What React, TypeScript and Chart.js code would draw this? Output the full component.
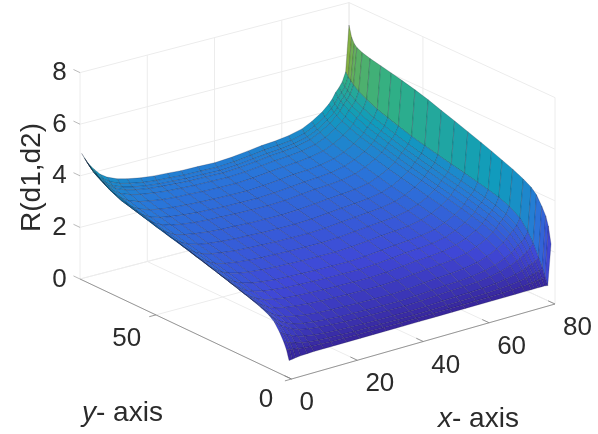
import React, { useEffect, useRef } from "react";
import { Chart, registerables } from "chart.js";

Chart.register(...registerables);

const xNodes = [0.5, 1.5, 2.5, 4, 6, 8, 11, 14, 18, 22, 26, 30, 35, 40, 45, 50, 54, 58, 62, 66, 69, 72, 74, 75, 76, 77, 78, 79, 80];
const yNodes = [1.5, 2.5, 3.5, 5, 7, 9, 12, 16, 20, 24, 28, 33, 38, 43, 48, 53, 58, 62, 66, 70, 73, 75, 76, 77, 78];
// R(d1,d2): one row per y node, one column per x node
const rValues = [
  [.62,.64,.66,.68,.69,.70,.70,.70,.70,.70,.70,.70,.70,.70,.70,.70,.70,.70,.70,.70,.70,.70,.70,.70,.70,.70,.70,.68,2.25],
  [1.00,.97,.94,.91,.87,.85,.83,.81,.80,.79,.79,.78,.78,.78,.78,.79,.79,.80,.80,.81,.83,.85,.87,.88,.90,.91,.92,.95,2.90],
  [1.25,1.19,1.14,1.08,1.02,.97,.93,.91,.89,.87,.87,.86,.85,.85,.86,.87,.88,.89,.90,.93,.96,1.01,1.05,1.08,1.12,1.15,1.19,1.25,3.25],
  [1.55,1.46,1.38,1.29,1.19,1.12,1.06,1.02,.99,.97,.95,.94,.94,.93,.94,.97,.99,1.00,1.02,1.06,1.12,1.20,1.27,1.32,1.39,1.43,1.49,1.60,3.55],
  [1.85,1.74,1.63,1.51,1.37,1.28,1.20,1.15,1.11,1.08,1.06,1.05,1.04,1.03,1.05,1.09,1.12,1.14,1.17,1.23,1.32,1.44,1.55,1.62,1.72,1.80,1.89,2.05,3.90],
  [2.02,1.89,1.78,1.64,1.50,1.40,1.31,1.26,1.21,1.17,1.16,1.14,1.13,1.12,1.15,1.19,1.23,1.25,1.29,1.37,1.48,1.63,1.77,1.86,1.99,2.08,2.20,2.40,4.10],
  [2.17,2.04,1.92,1.78,1.63,1.53,1.44,1.38,1.33,1.30,1.28,1.26,1.25,1.24,1.27,1.33,1.37,1.40,1.45,1.54,1.67,1.86,2.03,2.14,2.29,2.40,2.54,2.79,4.28],
  [2.32,2.19,2.07,1.93,1.77,1.67,1.58,1.52,1.47,1.44,1.42,1.40,1.39,1.38,1.41,1.47,1.52,1.56,1.61,1.71,1.85,2.05,2.24,2.35,2.52,2.64,2.79,3.06,4.47],
  [2.45,2.32,2.19,2.05,1.90,1.79,1.70,1.64,1.59,1.56,1.54,1.52,1.51,1.50,1.53,1.59,1.65,1.68,1.73,1.84,1.98,2.19,2.38,2.50,2.67,2.79,2.94,3.22,4.63],
  [2.59,2.45,2.33,2.18,2.03,1.92,1.82,1.77,1.71,1.68,1.66,1.64,1.63,1.62,1.65,1.71,1.77,1.80,1.85,1.95,2.10,2.30,2.49,2.61,2.78,2.90,3.06,3.33,4.79],
  [2.72,2.58,2.45,2.30,2.15,2.04,1.94,1.88,1.82,1.79,1.77,1.75,1.74,1.73,1.76,1.82,1.87,1.91,1.96,2.06,2.21,2.41,2.60,2.72,2.89,3.01,3.16,3.43,4.94],
  [2.88,2.74,2.60,2.45,2.29,2.18,2.07,2.01,1.96,1.92,1.90,1.88,1.87,1.86,1.89,1.95,2.00,2.04,2.09,2.19,2.33,2.54,2.72,2.84,3.01,3.13,3.28,3.55,5.12],
  [3.04,2.89,2.75,2.59,2.43,2.31,2.20,2.14,2.08,2.04,2.02,2.00,1.99,1.98,2.01,2.07,2.12,2.16,2.21,2.31,2.45,2.65,2.84,2.95,3.12,3.24,3.39,3.66,5.30],
  [3.20,3.05,2.90,2.74,2.56,2.44,2.33,2.27,2.20,2.17,2.14,2.12,2.11,2.10,2.13,2.19,2.24,2.28,2.33,2.43,2.57,2.77,2.96,3.07,3.24,3.36,3.51,3.78,5.47],
  [3.35,3.19,3.04,2.87,2.69,2.56,2.45,2.38,2.32,2.28,2.26,2.23,2.22,2.21,2.24,2.30,2.35,2.39,2.44,2.54,2.68,2.89,3.07,3.19,3.36,3.48,3.63,3.90,5.65],
  [3.50,3.34,3.18,3.01,2.82,2.69,2.58,2.51,2.44,2.40,2.38,2.35,2.34,2.33,2.36,2.42,2.47,2.51,2.56,2.66,2.81,3.01,3.20,3.32,3.49,3.61,3.76,4.03,5.80],
  [3.65,3.48,3.33,3.15,2.95,2.82,2.70,2.63,2.56,2.52,2.50,2.47,2.46,2.45,2.48,2.55,2.60,2.63,2.68,2.79,2.94,3.15,3.34,3.46,3.63,3.76,3.91,4.19,5.93],
  [3.78,3.61,3.45,3.26,3.06,2.92,2.80,2.73,2.66,2.61,2.59,2.56,2.55,2.54,2.58,2.64,2.69,2.73,2.78,2.89,3.04,3.25,3.45,3.57,3.75,3.88,4.04,4.32,6.03],
  [3.91,3.73,3.56,3.37,3.17,3.03,2.90,2.82,2.75,2.71,2.68,2.66,2.64,2.63,2.67,2.73,2.79,2.82,2.88,2.99,3.14,3.36,3.56,3.69,3.87,4.00,4.17,4.46,6.12],
  [4.13,3.93,3.75,3.54,3.32,3.16,3.02,2.94,2.86,2.81,2.79,2.76,2.74,2.73,2.77,2.84,2.89,2.93,2.99,3.10,3.27,3.50,3.71,3.84,4.04,4.17,4.34,4.65,6.21],
  [4.35,4.14,3.94,3.71,3.46,3.29,3.14,3.05,2.97,2.91,2.88,2.85,2.84,2.82,2.86,2.93,2.99,3.03,3.09,3.21,3.38,3.62,3.84,3.98,4.18,4.32,4.50,4.82,6.30],
  [4.50,4.27,4.07,3.82,3.57,3.39,3.23,3.13,3.04,2.99,2.95,2.92,2.91,2.89,2.93,3.00,3.07,3.11,3.17,3.30,3.48,3.73,3.96,4.10,4.31,4.46,4.65,4.98,6.40],
  [4.60,4.37,4.15,3.90,3.64,3.45,3.29,3.19,3.10,3.04,3.01,2.97,2.96,2.94,2.98,3.06,3.12,3.16,3.23,3.36,3.54,3.80,4.03,4.18,4.40,4.55,4.74,5.08,6.50],
  [4.72,4.48,4.26,4.01,3.73,3.55,3.38,3.28,3.18,3.12,3.09,3.05,3.04,3.02,3.06,3.14,3.21,3.25,3.31,3.45,3.63,3.89,4.13,4.28,4.50,4.66,4.85,5.20,6.70],
  [4.85,4.61,4.39,4.14,3.86,3.68,3.51,3.41,3.31,3.25,3.22,3.18,3.17,3.15,3.19,3.27,3.34,3.38,3.45,3.58,3.77,4.03,4.27,4.43,4.65,4.80,5.00,5.35,7.13],
];
const xTicks = [0, 20, 40, 60, 80];
const yTicks = [0, 50];
const zTicks = [0, 2, 4, 6, 8];
const X_MAX = 80;
const Y_MAX = 78;
const zTitle = "R(d1,d2)";

const parula = [
  [62, 38, 168], [72, 82, 244], [46, 135, 247], [18, 177, 214],
  [55, 200, 151], [171, 199, 58], [254, 195, 56], [249, 251, 21],
];
const C_MIN = 0.6;
const C_MAX = 8.6;
const SHADE = 0.88; // the reference's very fine mesh darkens its cells
function colorFor(z: number) {
  const t = Math.max(0, Math.min(0.9999, (z - C_MIN) / (C_MAX - C_MIN))) * (parula.length - 1);
  const i = Math.floor(t);
  const f = t - i;
  const c = parula[i].map((v, k) => Math.round((v + (parula[i + 1][k] - v) * f) * SHADE));
  return `rgb(${c[0]},${c[1]},${c[2]})`;
}

// view projection of the 3-D box on the page
function project(x: number, y: number, z: number) {
  const u = x / X_MAX;
  const v = y / Y_MAX;
  return {
    x: 291.5 + 263.5 * u - 211.5 * v + 5.5 * u * v,
    y: 379 - 75 * u - 100 * v + 5 * u * v - 25.8 * z,
  };
}

type P3 = [number, number, number];
function lineSet(points: P3[], color: string, width: number) {
  return {
    data: points.map((p) => project(p[0], p[1], p[2])),
    showLine: true,
    fill: false,
    borderColor: color,
    borderWidth: width,
    pointRadius: 0,
    tension: 0,
  };
}

function buildDatasets() {
  const sets: any[] = [];
  // Chart.js paints the last dataset first, so the nearest cells go first here.
  for (let j = 0; j < yNodes.length - 1; j++) {
    for (let i = 0; i < xNodes.length - 1; i++) {
      const a = rValues[j][i], b = rValues[j][i + 1], c = rValues[j + 1][i + 1], d = rValues[j + 1][i];
      sets.push({
        data: [
          project(xNodes[i], yNodes[j], a),
          project(xNodes[i + 1], yNodes[j], b),
          project(xNodes[i + 1], yNodes[j + 1], c),
          project(xNodes[i], yNodes[j + 1], d),
          project(xNodes[i], yNodes[j], a),
        ],
        showLine: true,
        fill: "shape",
        backgroundColor: colorFor((a + b + c + d) / 4),
        borderColor: "rgba(10,10,40,0.42)",
        borderWidth: 0.5,
        pointRadius: 0,
        tension: 0,
      });
    }
  }
  const dark = "#808080";
  const grid = "#ececec";
  const zTop = zTicks[zTicks.length - 1];
  sets.push(lineSet([[0, 0, 0], [0, Y_MAX, 0]], dark, 0.8));
  sets.push(lineSet([[0, 0, 0], [X_MAX, 0, 0]], dark, 0.8));
  xTicks.forEach((t) => sets.push(lineSet([[t, 0, 0], [t, 2.6, 0]], dark, 0.8)));
  yTicks.forEach((t) => sets.push(lineSet([[0, t, 0], [-2, t, 0]], dark, 0.8)));
  zTicks.forEach((t) => sets.push(lineSet([[0, Y_MAX, t], [0, Y_MAX + 2.4, t]], "#a8a8a8", 0.8)));
  xTicks.forEach((t) => {
    sets.push(lineSet([[t, 0, 0], [t, Y_MAX, 0], [t, Y_MAX, zTop]], grid, 1));
  });
  [...yTicks, Y_MAX].forEach((t) => {
    sets.push(lineSet([[0, t, 0], [X_MAX, t, 0], [X_MAX, t, zTop]], grid, 1));
  });
  zTicks.forEach((t) => {
    sets.push(lineSet([[0, Y_MAX, t], [X_MAX, Y_MAX, t], [X_MAX, 0, t]], grid, 1));
  });
  return sets;
}

const textPlugin = {
  id: "axisText",
  afterDraw(chart: any) {
    const ctx = chart.ctx as CanvasRenderingContext2D;
    const sx = chart.scales.x;
    const sy = chart.scales.y;
    const at = (p: { x: number; y: number }) => ({ x: sx.getPixelForValue(p.x), y: sy.getPixelForValue(p.y) });
    ctx.save();
    ctx.fillStyle = "#2b2b2b";
    ctx.textAlign = "center";
    ctx.textBaseline = "alphabetic";
    ctx.font = '26px "Liberation Sans"';
    const put = (s: string, x: number, y: number) => ctx.fillText(s, x, y + 9);
    zTicks.forEach((t) => {
      const p = at(project(0, Y_MAX, t));
      put(String(t), p.x - 20.5, p.y - 1.5);
    });
    xTicks.forEach((t) => {
      const p = at(project(t, 0, 0));
      const w = ctx.measureText(String(t)).width;
      put(String(t), p.x + 8 + w / 2, p.y + 22);
    });
    yTicks.forEach((t) => {
      const p = at(project(0, t, 0));
      const w = ctx.measureText(String(t)).width;
      put(String(t), p.x - 22 - w / 4, p.y + 16 + w * 0.21);
    });
    ctx.textAlign = "left";
    ctx.font = 'italic 28px "Liberation Sans"';
    ctx.fillText("y", 82, 421);
    let w = ctx.measureText("y").width;
    ctx.font = '28px "Liberation Sans"';
    ctx.fillText("- axis", 82 + w, 421);
    ctx.font = 'italic 28px "Liberation Sans"';
    ctx.fillText("x", 438, 427);
    w = ctx.measureText("x").width;
    ctx.font = '28px "Liberation Sans"';
    ctx.fillText("- axis", 438 + w, 427);
    ctx.translate(32, 177.5);
    ctx.rotate(-Math.PI / 2);
    ctx.textAlign = "center";
    ctx.textBaseline = "middle";
    ctx.fillText(zTitle, 0, 0);
    ctx.restore();
  },
};

export default function App() {
  const ref = useRef<HTMLCanvasElement>(null);
  useEffect(() => {
    if (!ref.current) return;
    const chart = new Chart(ref.current, {
      type: "scatter",
      data: { datasets: buildDatasets() },
      options: {
        animation: false,
        responsive: false,
        events: [],
        layout: { padding: 0 },
        scales: {
          x: { type: "linear", min: 0, max: 598, display: false },
          y: { type: "linear", min: 0, max: 434, reverse: true, display: false },
        },
        plugins: { legend: { display: false }, tooltip: { enabled: false }, filler: { propagate: false } },
      },
      plugins: [textPlugin],
    } as any);
    return () => chart.destroy();
  }, []);
  return (
    <canvas
      ref={ref}
      width={598}
      height={434}
      style={{ position: "absolute", left: 0, top: 0, width: 598, height: 434, display: "block", background: "#fff" }}
    />
  );
}
